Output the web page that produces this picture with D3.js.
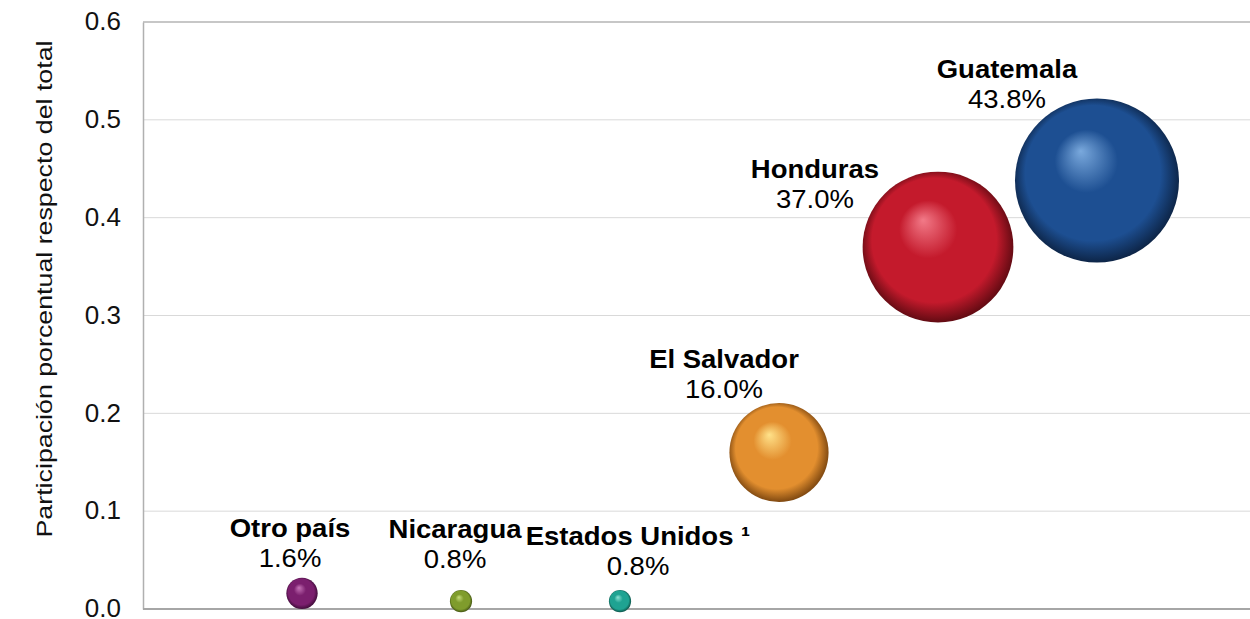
<!DOCTYPE html>
<html>
<head>
    <meta charset="utf-8">
    <title>Participación porcentual</title>
    <script src="https://d3js.org/d3.v7.min.js"></script>
    <style>
        body { margin: 0; background: #fff; }
        text { font-family: "Liberation Sans", Arial, sans-serif; }
    </style>
</head>
<body>
    <svg width="1250" height="619"></svg>
    <script>
        // data
        const countries = ["Otro país", "Nicaragua", "Estados Unidos ¹", "El Salvador", "Honduras", "Guatemala"]
        const xPos = [1, 2, 3, 4, 5, 6]
        const shares = [0.016, 0.008, 0.008, 0.16, 0.37, 0.438]
        const shareLabels = ["1.6%", "0.8%", "0.8%", "16.0%", "37.0%", "43.8%"]
        const yTicks = [0, 0.1, 0.2, 0.3, 0.4, 0.5, 0.6]

        // colours and label placement (manual, like the original)
        const baseColors = ["#7b1f6e", "#7f9c2c", "#1fa392", "#e38f2f", "#c41a2c", "#1d4f92"]
        const lightColors = ["#c774b8", "#c6dc7a", "#8ee2d4", "#ffe28a", "#f27a88", "#7aa9dd"]
        const darkColors = ["#2a0526", "#2f3c0a", "#06382f", "#5a2e05", "#3e0509", "#07152b"]
        const labelDx = [-12, -6, 18, -55, -123, -90]
        const labelDy = [-56, -63, -56, -84, -69, -102]

        const svg = d3.select("svg")

        const x = d3.scaleLinear().domain([0, 7]).range([143, 143 + 7 * 159])
        const y = d3.scaleLinear().domain([0, 0.6]).range([609, 22])
        const r = d3.scaleSqrt().domain([0, 0.438]).range([0, 82])

        const defs = svg.append("defs")
        countries.forEach((c, i) => {
            const grad = defs.append("radialGradient")
                .attr("id", "g" + i)
                .attr("cx", "0.5").attr("cy", "0.5").attr("r", "0.55")
                .attr("fx", "0.4").attr("fy", "0.32")
            grad.append("stop").attr("offset", "0%").attr("stop-color", lightColors[i])
            grad.append("stop").attr("offset", "35%").attr("stop-color", baseColors[i])
            grad.append("stop").attr("offset", "75%").attr("stop-color", baseColors[i])
            grad.append("stop").attr("offset", "100%").attr("stop-color", darkColors[i])
        })

        // gridlines
        svg.append("g").selectAll("line")
            .data(yTicks.filter(d => d > 0))
            .enter().append("line")
            .attr("x1", 143).attr("x2", 1250)
            .attr("y1", d => y(d)).attr("y2", d => y(d))
            .attr("stroke", d => d === 0.6 ? "#b5b5b5" : "#d9d9d9")
            .attr("stroke-width", d => d === 0.6 ? 1.5 : 1)

        // left axis
        const yAxis = d3.axisLeft(y).tickValues(yTicks).tickFormat(d3.format(".1f")).tickSize(0).tickPadding(22)
        const gy = svg.append("g").attr("transform", "translate(143,0)").call(yAxis)
        gy.select(".domain").attr("stroke", "#b0b0b0").attr("stroke-width", 1.5)
        gy.selectAll("text").attr("font-size", 26).attr("fill", "#111").attr("dy", "0.3em")
            .style("font-family", "'Liberation Sans', Arial, sans-serif")

        // bottom axis line
        svg.append("line")
            .attr("x1", 143).attr("x2", 1250)
            .attr("y1", y(0)).attr("y2", y(0))
            .attr("stroke", "#a6a6a6").attr("stroke-width", 2)

        svg.append("text")
            .attr("transform", "translate(52,289) rotate(-90)")
            .attr("text-anchor", "middle")
            .attr("font-size", 22)
            .attr("fill", "#111")
            .attr("textLength", 497)
            .attr("lengthAdjust", "spacingAndGlyphs")
            .text("Participación porcentual respecto del total")

        // bubbles
        svg.append("g").selectAll("circle")
            .data(countries)
            .enter().append("circle")
            .attr("cx", (d, i) => x(xPos[i]))
            .attr("cy", (d, i) => y(shares[i]))
            .attr("r", (d, i) => r(shares[i]))
            .attr("fill", (d, i) => "url(#g" + i + ")")

        // labels
        const lab = svg.append("g").selectAll("text")
            .data(countries)
            .enter().append("text")
            .attr("text-anchor", "middle")
            .attr("font-size", 25)
            .attr("fill", "#000")
            .attr("transform", (d, i) => "translate(" + (x(xPos[i]) + labelDx[i]) + "," + (y(shares[i]) + labelDy[i]) + ") scale(1.1,1)")
        lab.append("tspan").attr("x", 0).attr("font-weight", "bold").text(d => d)
        lab.append("tspan")
            .attr("x", 0)
            .attr("dy", 30)
            .text((d, i) => shareLabels[i])
    </script>
</body>
</html>
